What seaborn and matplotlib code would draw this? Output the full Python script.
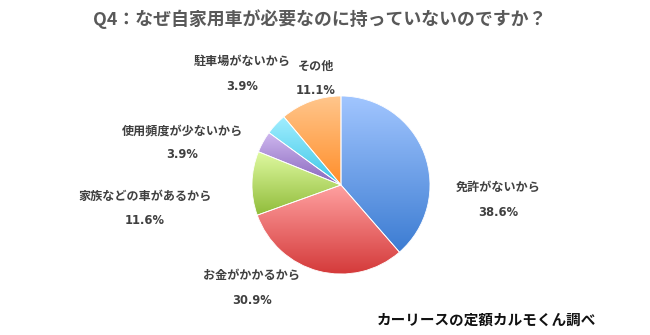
import numpy as np
import matplotlib
matplotlib.use("Agg")
import matplotlib.pyplot as plt
import matplotlib.patches as mpatches
import seaborn as sns
from matplotlib.colors import LinearSegmentedColormap

sns.set_theme(style="white")
plt.rcParams['font.family'] = ['Noto Sans CJK JP', 'DejaVu Sans']

categories = ["免許がないから", "お金がかかるから", "家族などの車があるから",
              "使用頻度が少ないから", "駐車場がないから", "その他"]
values = [38.6, 30.9, 11.6, 3.9, 3.9, 11.1]
pct_labels = ["38.6%", "30.9%", "11.6%", "3.9%", "3.9%", "11.1%"]
top_colors = ["#A2C6FF", "#FFA0A0", "#E0FAA2", "#CFB8F0", "#A2EEFF", "#FFC68C"]
bottom_colors = ["#3C7CD2", "#D43A3A", "#90BC3A", "#8866BC", "#3CC6E6", "#FF8E2A"]
title = "Q4：なぜ自家用車が必要なのに持っていないのですか？"
source = "カーリースの定額カルモくん調べ"

W, H = 650, 335
fig = plt.figure(figsize=(W / 100, H / 100), dpi=100)
fig.patch.set_facecolor("white")

cx, cy, r = 341, 185, 89
ax = fig.add_axes([(cx - r) / W, (H - cy - r) / H, 2 * r / W, 2 * r / H])
wedges, _ = ax.pie(values, startangle=90, counterclock=False, radius=1,
                   colors=top_colors, wedgeprops=dict(linewidth=0.6, edgecolor="white"))
ax.set_aspect("equal")
ax.axis("off")

for w, c1, c2 in zip(wedges, top_colors, bottom_colors):
    t1, t2 = np.deg2rad(w.theta1), np.deg2rad(w.theta2)
    th = np.linspace(t1, t2, 200)
    xs = np.concatenate([[0], np.cos(th)])
    ys = np.concatenate([[0], np.sin(th)])
    y0, y1 = ys.min(), ys.max()
    x0, x1 = xs.min(), xs.max()
    cmap = LinearSegmentedColormap.from_list("g", [c1, c2])
    grad = np.linspace(0, 1, 256).reshape(-1, 1)
    im = ax.imshow(grad, cmap=cmap, extent=[x0, x1, y0, y1], origin="upper",
                   aspect="auto", zorder=w.get_zorder() + 0.1)
    im.set_clip_path(w)
    ax.add_patch(mpatches.Wedge((0, 0), 1, w.theta1, w.theta2,
                 facecolor="none", edgecolor="white", linewidth=0.6, zorder=w.get_zorder() + 0.2))
ax.set_xlim(-1, 1)
ax.set_ylim(-1, 1)

def px(x, y):
    return x / W, 1 - y / H

label_pos = [(498, 187, 212), (252, 275, 300), (145, 196, 220),
             (182, 131, 155), (242, 61, 86), (316, 66, 90)]
tc = "#404040"
for cat, pl, (x, y1, y2) in zip(categories, pct_labels, label_pos):
    fig.text(*px(x, y1), cat, ha="center", va="center", fontsize=8.7, color=tc, fontweight="bold")
    fig.text(*px(x, y2), pl, ha="center", va="center", fontsize=8.3, color=tc, fontweight="bold",
             family=["DejaVu Sans"])

fig.text(*px(320, 19), title, ha="center", va="center", fontsize=12.9, color="#595959", fontweight="bold")
fig.text(*px(487, 320), source, ha="center", va="center", fontsize=10.5, color="#111111", fontweight="bold")

fig.savefig("out.png", dpi=100, facecolor="white")
